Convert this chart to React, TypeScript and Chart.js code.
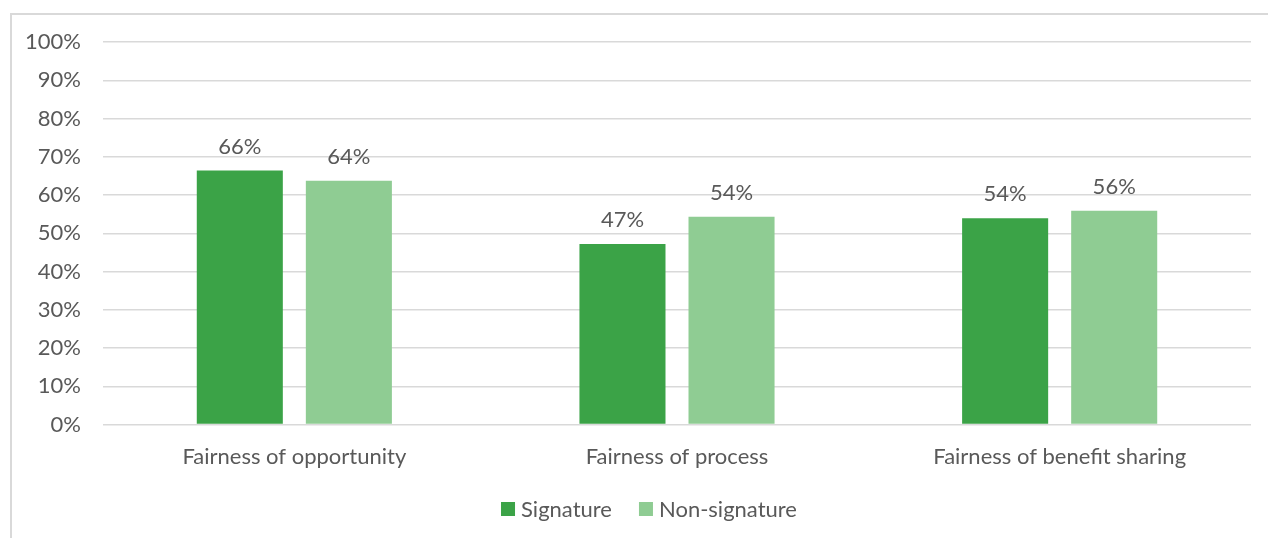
import React, { useEffect, useRef } from "react";
import { Chart, registerables } from "chart.js";

Chart.register(...registerables);

const categories = ["Fairness of opportunity", "Fairness of process", "Fairness of benefit sharing"];
const signature = [66.4, 47.2, 53.9];
const nonSignature = [63.7, 54.3, 55.9];
const seriesNames = ["Signature", "Non-signature"];
const yTicks = [0, 10, 20, 30, 40, 50, 60, 70, 80, 90, 100];

const FONT = "Lato, 'Open Sans', sans-serif";
const FS = 22;
const TEXT = "#595959";
const GRID = "#d9d9d9";
const COLORS = ["#3ba347", "#8fcc93"];

const framePlugin = {
  id: "frame",
  beforeDraw(chart: any) {
    const ctx = chart.ctx;
    ctx.save();
    ctx.fillStyle = "#ffffff";
    ctx.fillRect(0, 0, chart.width, chart.height);
    ctx.strokeStyle = GRID;
    ctx.lineWidth = 2;
    ctx.strokeRect(11, 14, chart.width + 20, chart.height + 20);
    ctx.restore();
  },
};

const labelPlugin = {
  id: "barLabels",
  afterDatasetsDraw(chart: any) {
    const ctx = chart.ctx;
    ctx.save();
    ctx.font = `${FS}px ${FONT}`;
    ctx.fillStyle = TEXT;
    ctx.textAlign = "center";
    ctx.textBaseline = "alphabetic";
    chart.data.datasets.forEach((ds: any, i: number) => {
      const meta = chart.getDatasetMeta(i);
      meta.data.forEach((bar: any, j: number) => {
        ctx.fillText(Math.round(ds.data[j]) + "%", bar.x, bar.y - 17);
      });
    });
    ctx.restore();
  },
};

const legendPlugin = {
  id: "customLegend",
  afterDraw(chart: any) {
    const ctx = chart.ctx;
    ctx.save();
    ctx.font = `${FS}px ${FONT}`;
    const box = 14;
    const gapText = 6;
    const gapItem = 27;
    const items = chart.data.datasets.map((ds: any) => ({
      label: ds.label,
      color: ds.backgroundColor,
      w: box + gapText + ctx.measureText(ds.label).width,
    }));
    const total = items.reduce((s: number, it: any) => s + it.w, 0) + gapItem * (items.length - 1);
    let x = 649 - total / 2;
    const cy = 509;
    items.forEach((it: any) => {
      ctx.fillStyle = it.color;
      ctx.fillRect(x, cy - box / 2, box, box);
      ctx.fillStyle = TEXT;
      ctx.textAlign = "left";
      ctx.textBaseline = "middle";
      ctx.fillText(it.label, x + box + gapText, cy + 1);
      x += it.w + gapItem;
    });
    ctx.restore();
  },
};

export default function App() {
  const ref = useRef<HTMLCanvasElement | null>(null);
  useEffect(() => {
    if (!ref.current) return;
    const chart = new Chart(ref.current, {
      type: "bar",
      data: {
        labels: categories,
        datasets: [
          { label: seriesNames[0], data: signature, backgroundColor: COLORS[0] },
          { label: seriesNames[1], data: nonSignature, backgroundColor: COLORS[1] },
        ],
      },
      options: {
        responsive: false,
        animation: false,
        events: [],
        layout: { padding: { left: 0, right: 17, top: 42, bottom: 0 } },
        datasets: {
          bar: { categoryPercentage: 0.57, barPercentage: 0.789 },
        },
        plugins: {
          legend: { display: false },
          tooltip: { enabled: false },
        },
        scales: {
          x: {
            grid: { display: false },
            border: { display: false },
            ticks: { font: { family: FONT, size: FS }, color: TEXT, padding: 11, maxRotation: 0 },
            afterFit(scale: any) {
              scale.height = 113.5;
            },
          },
          y: {
            min: 0,
            max: 100,
            afterBuildTicks(scale: any) {
              scale.ticks = yTicks.map((v) => ({ value: v }));
            },
            grid: { color: GRID, lineWidth: 1.5, drawTicks: false },
            border: { display: false },
            ticks: {
              font: { family: FONT, size: FS },
              color: TEXT,
              padding: 22,
              callback: (v: any) => v + "%",
            },
            afterFit(scale: any) {
              scale.width = 103;
            },
          },
        },
      },
      plugins: [framePlugin, labelPlugin, legendPlugin],
    });
    return () => chart.destroy();
  }, []);
  return (
    <div style={{ position: "fixed", left: 0, top: 0, width: 1268, height: 538, background: "#fff" }}>
      <canvas ref={ref} width={1268} height={538} style={{ display: "block" }} />
    </div>
  );
}
